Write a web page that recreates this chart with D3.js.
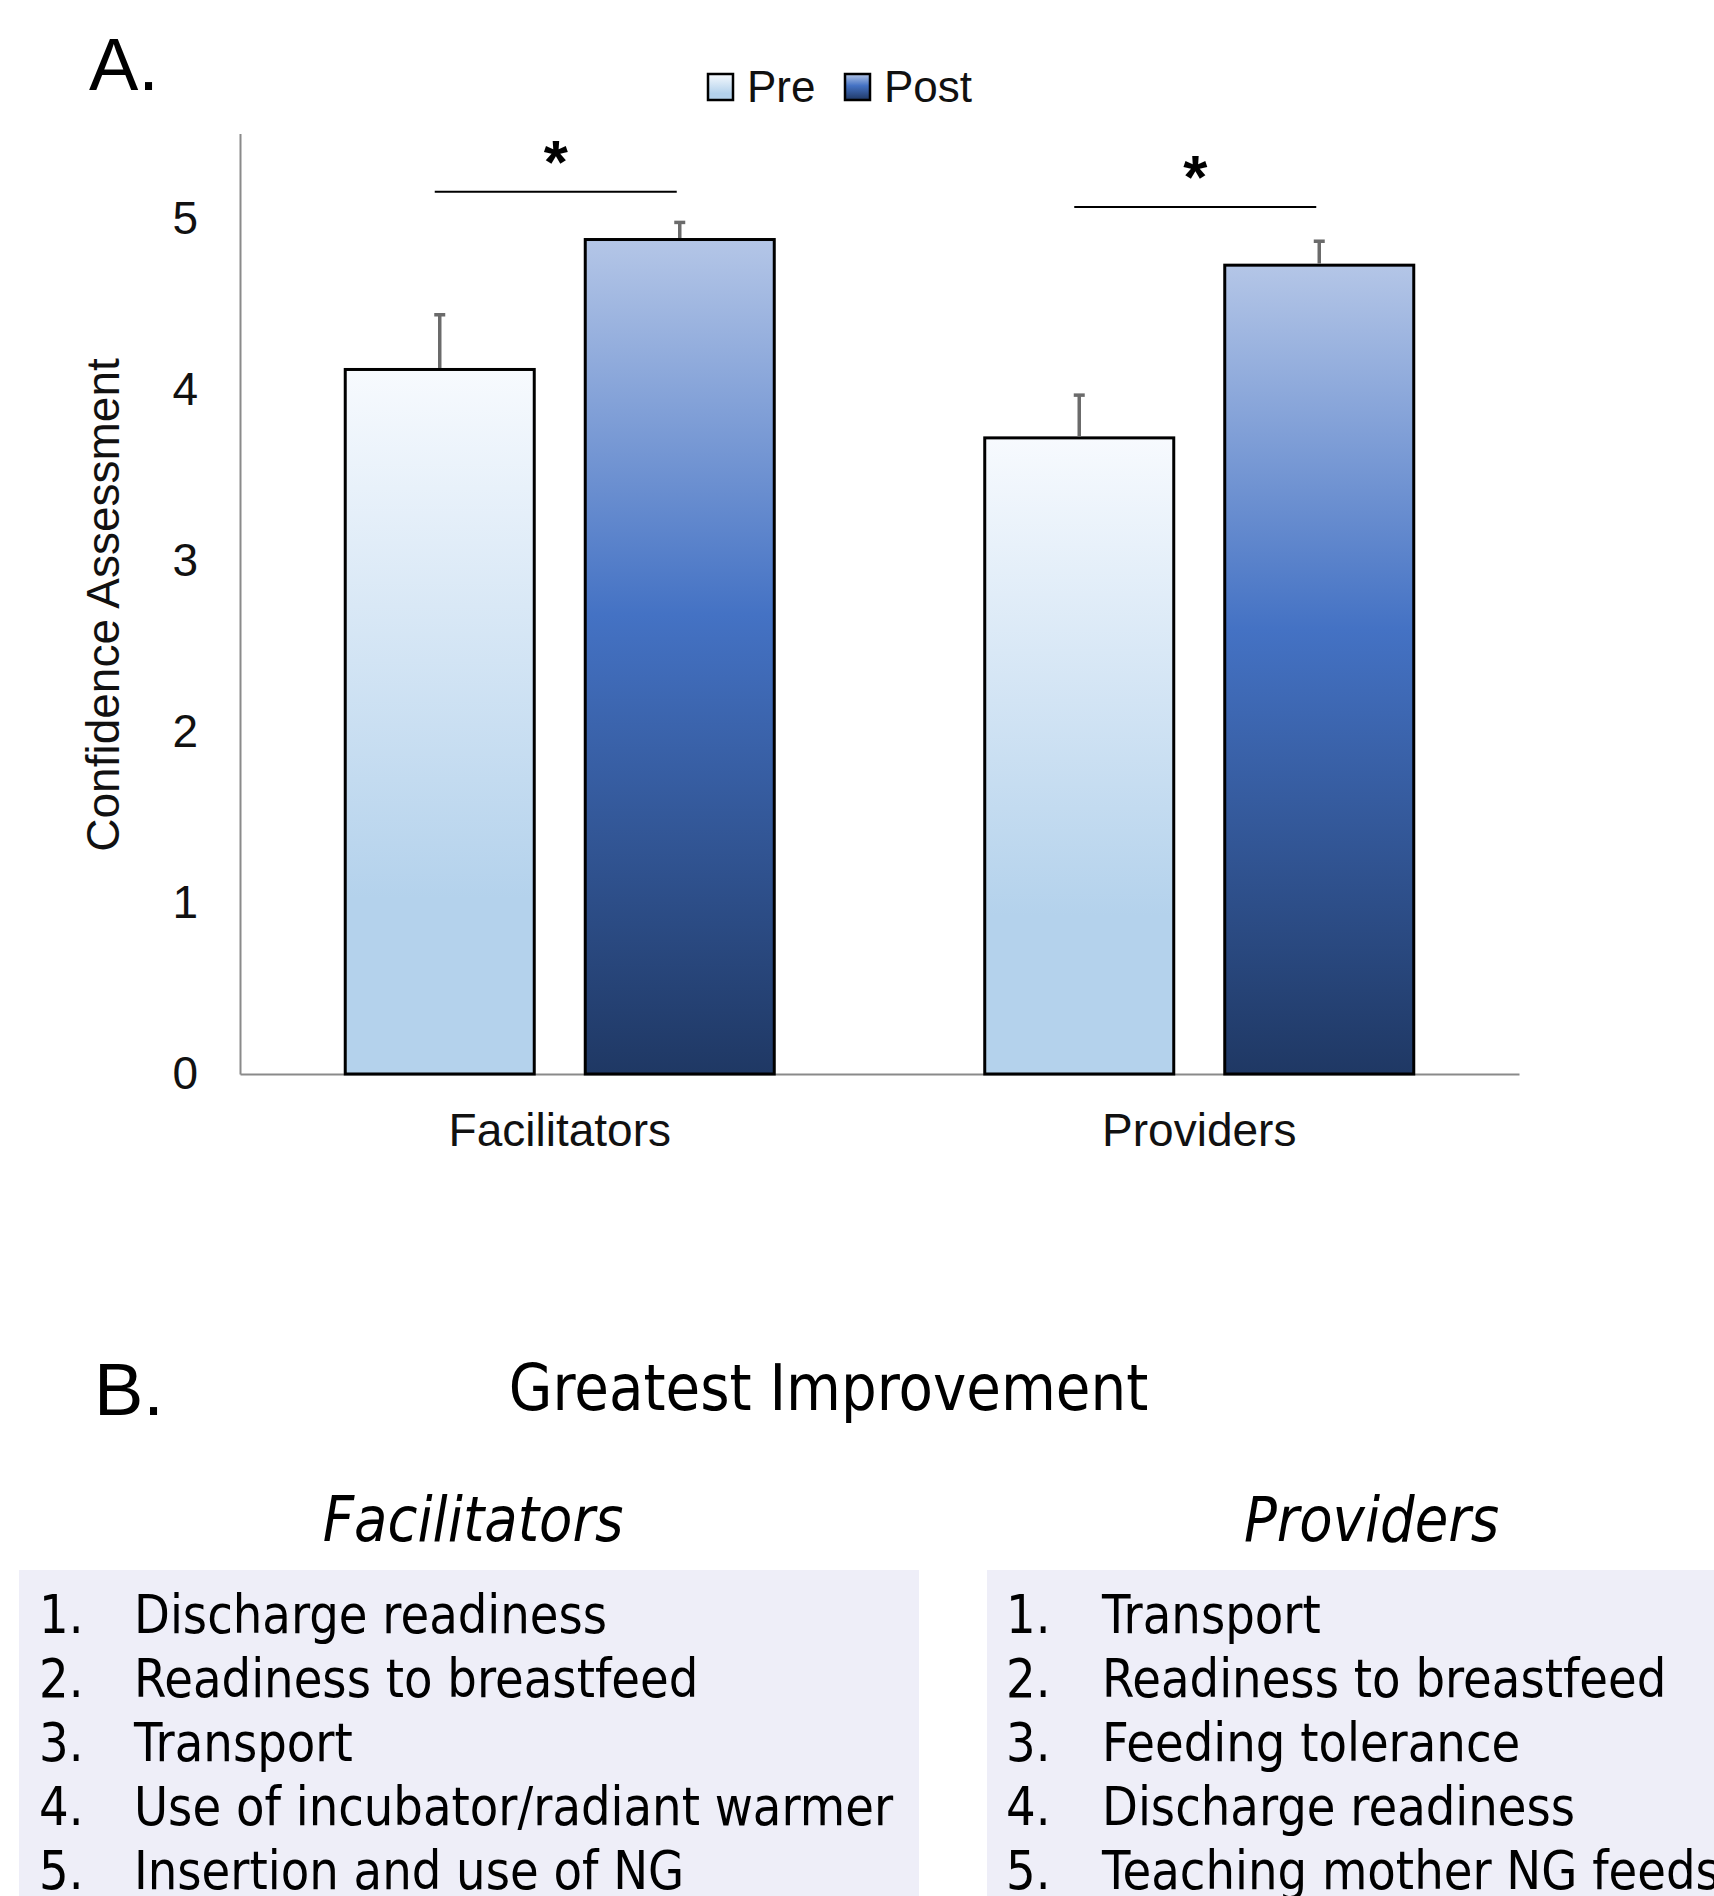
<!DOCTYPE html>
<html>
<head>
<meta charset="utf-8">
<script src="https://cdn.jsdelivr.net/npm/d3@7"></script>
<style>
  body { margin: 0; background: #fff; }
  svg { display: block; }
</style>
</head>
<body>
<svg id="fig" width="1714" height="1896"></svg>
<script>
// ---- Panel A data: mean confidence (1-5 scale) with error bars ----
const categories = ["Facilitators", "Providers"];
const seriesNames = ["Pre", "Post"];
const preMeans = [4.12, 3.72];
const postMeans = [4.88, 4.73];
const preErr = [0.32, 0.25];
const postErr = [0.10, 0.14];
// height of the significance bracket above each group
const sigLevels = [5.16, 5.07];
const sigMarks = ["*", "*"];
const yTicks = [0, 1, 2, 3, 4, 5];

// ---- Panel B: ranked topics with greatest improvement ----
const facilitatorItems = [
  "Discharge readiness",
  "Readiness to breastfeed",
  "Transport",
  "Use of incubator/radiant warmer",
  "Insertion and use of NG"
];
const providerItems = [
  "Transport",
  "Readiness to breastfeed",
  "Feeding tolerance",
  "Discharge readiness",
  "Teaching mother NG feeds"
];

const svg = d3.select("#fig");
const chartFont = "'Liberation Sans', Arial, Helvetica, sans-serif";
const listFont = "'DejaVu Sans', Verdana, sans-serif";

// gradients for the two series
const defs = svg.append("defs");
const gradPre = defs.append("linearGradient").attr("id", "gradPre")
  .attr("x1", 0).attr("y1", 0).attr("x2", 0).attr("y2", 1);
[[0, "#f7fafe"], [0.75, "#b4d2ec"], [1, "#b4d2ec"]].forEach(([o, c]) =>
  gradPre.append("stop").attr("offset", o).attr("stop-color", c));
const gradPost = defs.append("linearGradient").attr("id", "gradPost")
  .attr("x1", 0).attr("y1", 0).attr("x2", 0).attr("y2", 1);
[[0, "#b4c6e7"], [0.45, "#4472c4"], [1, "#1f3864"]].forEach(([o, c]) =>
  gradPost.append("stop").attr("offset", o).attr("stop-color", c));
const fills = { Pre: "url(#gradPre)", Post: "url(#gradPost)" };

// ---- scales ----
const plot = { left: 240, right: 1519, bottom: 1074 };
const y = d3.scaleLinear().domain([0, 5.5]).range([plot.bottom, 133.5]);
const x0 = d3.scaleBand().domain(categories).range([plot.left, plot.right]);
const x1 = d3.scaleBand().domain(seriesNames).range([0, x0.bandwidth()])
  .paddingInner(0.2125).paddingOuter(0.4385);

// panel label
svg.append("text").attr("x", 89).attr("y", 90)
  .style("font-family", chartFont).style("font-size", "74px").text("A.");

// axes
const yAxis = svg.append("g").attr("transform", `translate(${plot.left},0)`)
  .call(d3.axisLeft(y).tickValues(yTicks).tickSize(0).tickPadding(42).tickFormat(d3.format("d")));
const xAxis = svg.append("g").attr("transform", `translate(0,${plot.bottom})`)
  .call(d3.axisBottom(x0).tickSize(0).tickPadding(39));
[yAxis, xAxis].forEach(g => {
  g.select(".domain").attr("stroke", "#8a8a8a").attr("stroke-width", 2);
  g.selectAll("text").style("font-family", chartFont).style("font-size", "46px").attr("fill", "#111");
});

svg.append("text")
  .attr("transform", "translate(103,605) rotate(-90)")
  .attr("text-anchor", "middle").attr("dominant-baseline", "central")
  .style("font-family", chartFont).style("font-size", "46px").attr("fill", "#111")
  .text("Confidence Assessment");

// bars
const rows = [];
categories.forEach((c, i) => {
  rows.push({ cat: c, s: "Pre", v: preMeans[i], e: preErr[i] });
  rows.push({ cat: c, s: "Post", v: postMeans[i], e: postErr[i] });
});
const barG = svg.append("g");
barG.selectAll("rect").data(rows).join("rect")
  .attr("x", d => x0(d.cat) + x1(d.s))
  .attr("y", d => y(d.v))
  .attr("width", x1.bandwidth())
  .attr("height", d => y(0) - y(d.v))
  .attr("fill", d => fills[d.s])
  .attr("stroke", "#000").attr("stroke-width", 3);

// error bars (upper only)
const errG = svg.append("g").attr("stroke", "#6b6b6b").attr("stroke-width", 3.5);
rows.forEach(d => {
  const cx = x0(d.cat) + x1(d.s) + x1.bandwidth() / 2;
  errG.append("line").attr("x1", cx).attr("x2", cx)
    .attr("y1", y(d.v) - 1.5).attr("y2", y(d.v + d.e));
  errG.append("line").attr("x1", cx - 5.5).attr("x2", cx + 5.5)
    .attr("y1", y(d.v + d.e)).attr("y2", y(d.v + d.e));
});

// significance brackets
categories.forEach((c, i) => {
  const a = x0(c) + x1("Pre") + x1.bandwidth() / 2 - 5;
  const b = x0(c) + x1("Post") + x1.bandwidth() / 2 - 3;
  const ly = y(sigLevels[i]);
  svg.append("line").attr("x1", a).attr("x2", b).attr("y1", ly).attr("y2", ly)
    .attr("stroke", "#000").attr("stroke-width", 2);
  svg.append("text").attr("x", (a + b) / 2).attr("y", ly - 9)
    .attr("text-anchor", "middle")
    .style("font-family", chartFont).style("font-size", "62px").style("font-weight", "bold")
    .text(sigMarks[i]);
});

// legend
const legend = svg.append("g");
const legendPos = { Pre: 708, Post: 845 };
seriesNames.forEach(s => {
  legend.append("rect").attr("x", legendPos[s]).attr("y", 74)
    .attr("width", 25).attr("height", 26)
    .attr("fill", fills[s]).attr("stroke", "#000").attr("stroke-width", 2.5);
  legend.append("text").attr("x", legendPos[s] + 39).attr("y", 101.5)
    .style("font-family", chartFont).style("font-size", "44px").attr("fill", "#111")
    .text(s);
});

// ---- Panel B ----
svg.append("text").attr("x", 94).attr("y", 1415)
  .style("font-family", chartFont).style("font-size", "74px").text("B.");

const sx = 0.88;
svg.append("g").attr("transform", `translate(828.5,1410) scale(${sx},1)`)
  .append("text").attr("text-anchor", "middle")
  .style("font-family", listFont).style("font-size", "64px")
  .text("Greatest Improvement");

const columns = [
  { title: "Facilitators", items: facilitatorItems, cx: 473, box: [19, 900], numX: 39, textX: 134 },
  { title: "Providers", items: providerItems, cx: 1371.5, box: [987, 760], numX: 1006, textX: 1102 }
];
columns.forEach(col => {
  svg.append("g").attr("transform", `translate(${col.cx},1541) scale(${sx},1)`)
    .append("text").attr("text-anchor", "middle")
    .style("font-family", listFont).style("font-size", "62px").style("font-style", "italic")
    .text(col.title);
  svg.append("rect").attr("x", col.box[0]).attr("y", 1570)
    .attr("width", col.box[1]).attr("height", 340).attr("fill", "#eeeef8");
  col.items.forEach((t, i) => {
    const g = svg.append("g")
      .attr("transform", `translate(${col.numX},${1633 + i * 64}) scale(${sx},1)`)
      .style("font-family", listFont).style("font-size", "53px");
    g.append("text").attr("x", 0).text(`${i + 1}.`);
    g.append("text").attr("x", (col.textX - col.numX) / sx).text(t);
  });
});
</script>
</body>
</html>
